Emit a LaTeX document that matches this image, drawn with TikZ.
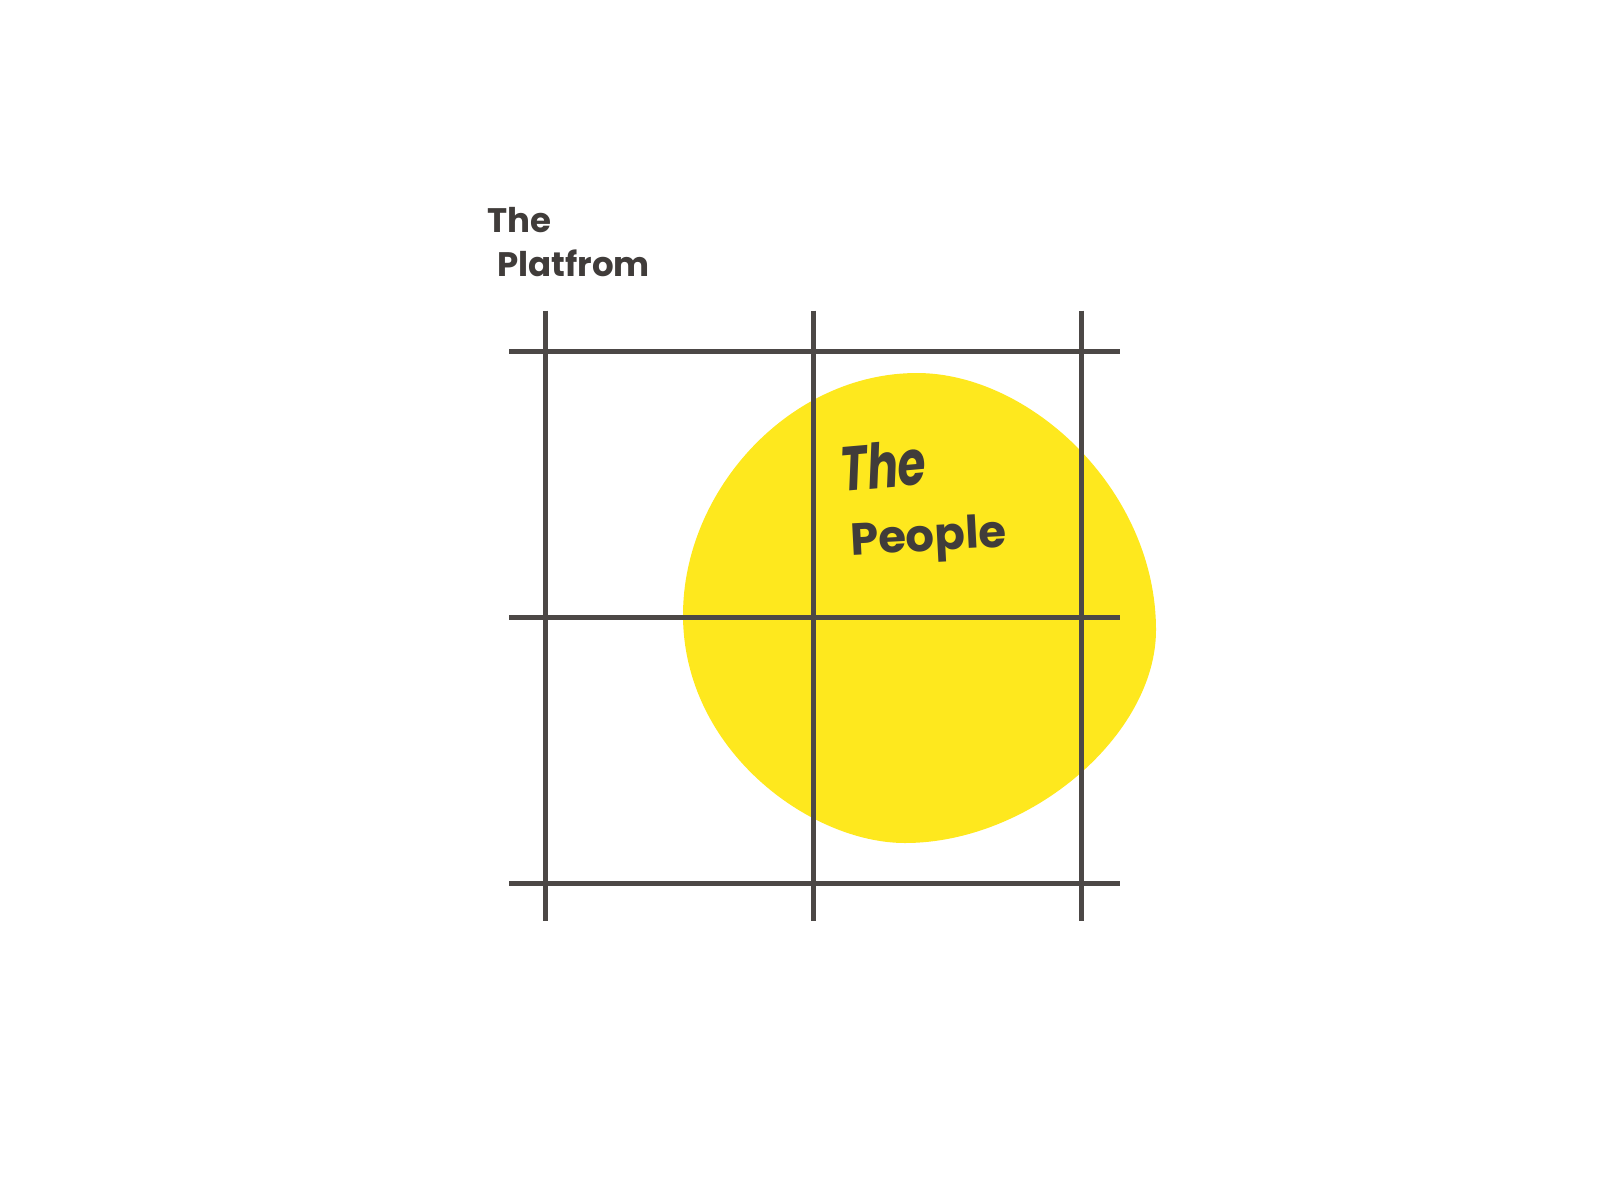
\documentclass[tikz,border=0pt]{standalone}
\usepackage{fontspec}
\setmainfont{Poppins}
\definecolor{gridgray}{RGB}{76,72,70}
\definecolor{textgray}{RGB}{64,60,58}
\definecolor{peopleyellow}{RGB}{254,232,30}
\tikzset{
  gridline/.style={line width=5.3pt,gridgray},
  label/.style={inner sep=0pt,text=textgray,font=\bfseries}
}

\begin{document}
\begin{tikzpicture}[x=1pt,y=-1pt]
			\useasboundingbox (0,0) rectangle (1600,1200);
			\fill[peopleyellow] (917,373) .. controls (1030,373) and (1156,490) .. (1156,630)
				.. controls (1156,735) and (1030,843) .. (905,843)
				.. controls (810,843) and (683,750) .. (683,615)
				.. controls (683,490) and (790,373) .. cycle;
			\foreach \col in {545.7,813.7,1081.7} {
				\draw[gridline] (\col,310.7) -- (\col,921);
			};
			\foreach \row in {351.7,617.7,883.3} {
				\draw[gridline] (509,\row) -- (1120,\row);
			};
			\node[label,anchor=base west,font=\bfseries\fontsize{34}{34}\selectfont] (platThe) at (487,232) {The};
			\node[label,anchor=base west,font=\bfseries\fontsize{34}{34}\selectfont] (platName) at (497,276) {Platfrom};
			\node[label,anchor=base west,rotate=5,xscale=0.95,yscale=1.3,font=\bfseries\itshape\fontsize{48}{48}\selectfont] (peopleThe) at (842,492) {The};
			\node[label,anchor=base west,rotate=3,font=\bfseries\fontsize{45}{45}\selectfont] (peopleName) at (851,555) {People};
		\end{tikzpicture}
\end{document}
